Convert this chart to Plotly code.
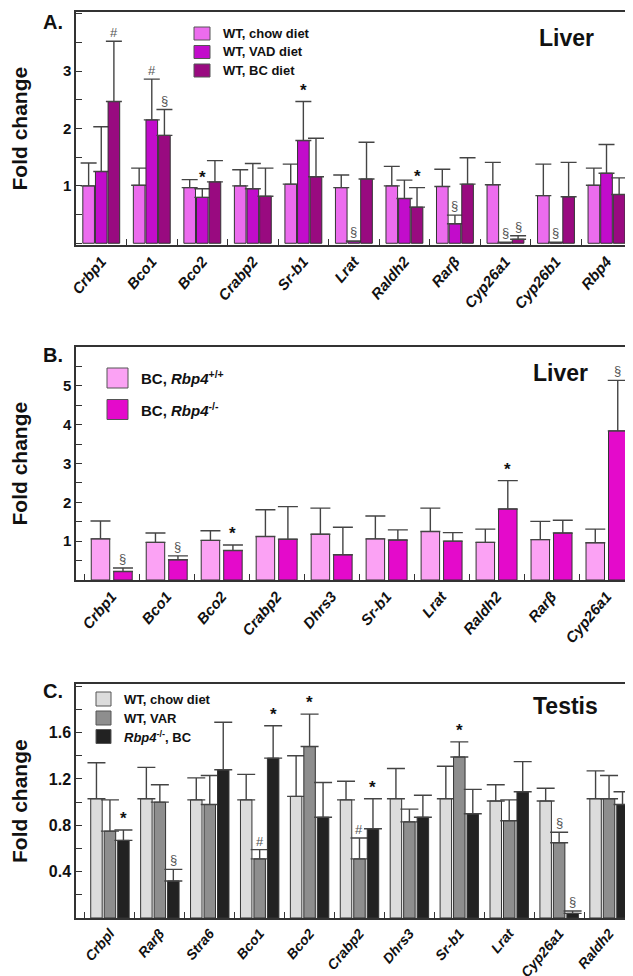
import plotly.graph_objects as go
from plotly.subplots import make_subplots

# ---- Panel A: liver, WT mice on three diets ----
genes_a = ["Crbp1", "Bco1", "Bco2", "Crabp2", "Sr-b1", "Lrat", "Raldh2", "Rarβ", "Cyp26a1", "Cyp26b1", "Rbp4"]
chow_a = [1.00, 1.01, 0.97, 1.00, 1.03, 0.97, 1.00, 0.99, 1.02, 0.83, 1.01]
chow_a_sd = [0.40, 0.30, 0.14, 0.28, 0.35, 0.22, 0.34, 0.30, 0.39, 0.55, 0.30]
vad_a = [1.25, 2.15, 0.80, 0.95, 1.79, 0.03, 0.78, 0.34, 0.01, 0.01, 1.22]
vad_a_sd = [0.78, 0.71, 0.15, 0.44, 0.68, 0.01, 0.32, 0.15, 0.01, 0.01, 0.50]
bc_a = [2.47, 1.88, 1.07, 0.82, 1.16, 1.12, 0.63, 1.03, 0.07, 0.81, 0.85]
bc_a_sd = [1.05, 0.45, 0.37, 0.49, 0.67, 0.64, 0.34, 0.46, 0.06, 0.60, 0.29]
# (gene, series index, symbol)
sig_a = [("Crbp1", 2, "#"), ("Bco1", 1, "#"), ("Bco1", 2, "§"), ("Bco2", 1, "*"),
         ("Sr-b1", 1, "*"), ("Lrat", 1, "§"), ("Raldh2", 2, "*"), ("Rarβ", 1, "§"),
         ("Cyp26a1", 1, "§"), ("Cyp26a1", 2, "§"), ("Cyp26b1", 1, "§")]

# ---- Panel B: liver, BC diet, Rbp4 +/+ vs -/- ----
genes_b = ["Crbp1", "Bco1", "Bco2", "Crabp2", "Dhrs3", "Sr-b1", "Lrat", "Raldh2", "Rarβ", "Cyp26a1"]
wt_b = [1.06, 0.97, 1.02, 1.12, 1.18, 1.06, 1.25, 0.97, 1.04, 0.96]
wt_b_sd = [0.46, 0.24, 0.25, 0.69, 0.67, 0.59, 0.60, 0.34, 0.47, 0.35]
ko_b = [0.22, 0.52, 0.76, 1.05, 0.65, 1.03, 1.00, 1.83, 1.21, 3.84]
ko_b_sd = [0.09, 0.10, 0.14, 0.84, 0.71, 0.26, 0.22, 0.73, 0.33, 1.30]
sig_b = [("Crbp1", 1, "§"), ("Bco1", 1, "§"), ("Bco2", 1, "*"), ("Raldh2", 1, "*"), ("Cyp26a1", 1, "§")]

# ---- Panel C: testis ----
genes_c = ["Crbpl", "Rarβ", "Stra6", "Bco1", "Bco2", "Crabp2", "Dhrs3", "Sr-b1", "Lrat", "Cyp26a1", "Raldh2"]
chow_c = [1.03, 1.03, 1.02, 1.02, 1.05, 1.02, 1.03, 1.03, 1.01, 1.01, 1.03]
chow_c_sd = [0.31, 0.27, 0.19, 0.22, 0.35, 0.16, 0.26, 0.28, 0.14, 0.11, 0.24]
var_c = [0.75, 1.00, 0.98, 0.51, 1.48, 0.51, 0.83, 1.39, 0.84, 0.65, 1.03]
var_c_sd = [0.27, 0.15, 0.25, 0.08, 0.28, 0.18, 0.11, 0.13, 0.18, 0.09, 0.20]
bc_c = [0.67, 0.32, 1.28, 1.38, 0.87, 0.77, 0.87, 0.90, 1.09, 0.04, 0.98]
bc_c_sd = [0.09, 0.10, 0.41, 0.28, 0.30, 0.26, 0.19, 0.21, 0.26, 0.02, 0.11]
sig_c = [("Crbpl", 2, "*"), ("Rarβ", 2, "§"), ("Bco1", 1, "#"), ("Bco1", 2, "*"),
         ("Bco2", 1, "*"), ("Crabp2", 1, "#"), ("Crabp2", 2, "*"), ("Sr-b1", 1, "*"),
         ("Cyp26a1", 1, "§"), ("Cyp26a1", 2, "§")]

FONT = "Liberation Sans, Arial, sans-serif"
W, H, L, R = 633, 976, 68, 7


def paper(x, y):
    # pixel position -> paper coords
    return (x - L) / (W - L - R), 1 - y / H


panels = [
    dict(genes=genes_a,
         series=[("WT, chow diet", chow_a, chow_a_sd, "#EC6CEE"),
                 ("WT, VAD diet", vad_a, vad_a_sd, "#C20CCB"),
                 ("WT, BC diet", bc_a, bc_a_sd, "#990A80")],
         sig=sig_a, width=0.23, slot=0.25, cap=8, xtick=15,
         ydom=[1 - 237 / H, 1 - 4 / H], xdom=[0, 0.996], yrange=[-0.03, 4.03],
         xrange=[-0.5, 10.5], tickvals=[1, 2, 3], minor=0.5, ytick=15),
    dict(genes=genes_b,
         series=[("BC, Rbp4+/+", wt_b, wt_b_sd, "#FBA2F4"),
                 ("BC, Rbp4-/-", ko_b, ko_b_sd, "#E40ACB")],
         sig=sig_b, width=0.336, slot=0.409, cap=10, xtick=15,
         ydom=[1 - 572 / H, 1 - 339 / H], xdom=[0, 1], yrange=[0, 6],
         xrange=[-0.65, 9.5], tickvals=[1, 2, 3, 4, 5], minor=0.5, ytick=15),
    dict(genes=genes_c,
         series=[("WT, chow diet", chow_c, chow_c_sd, "#DCDCDC"),
                 ("WT, VAR", var_c, var_c_sd, "#8E8E8E"),
                 ("Rbp4-/-, BC", bc_c, bc_c_sd, "#222222")],
         sig=sig_c, width=0.23, slot=0.27, cap=9, xtick=14,
         ydom=[1 - 910 / H, 1 - 676 / H], xdom=[0, 1], yrange=[0, 2.02],
         xrange=[-0.68, 10.5], tickvals=[0.4, 0.8, 1.2, 1.6], minor=0.2, ytick=16),
]

fig = make_subplots(rows=3, cols=1)
annotations = []

for r, p in enumerate(panels, start=1):
    n = len(p["series"])
    start = -(p["slot"] * n - (p["slot"] - p["width"])) / 2
    offsets = [start + k * p["slot"] for k in range(n)]
    for k, (name, vals, sd, color) in enumerate(p["series"]):
        fig.add_trace(go.Bar(
            x=p["genes"], y=vals, name=name, width=p["width"], offset=offsets[k],
            marker=dict(color=color, line=dict(color="#333", width=1)),
            error_y=dict(type="data", symmetric=False, array=sd, arrayminus=[0] * len(sd),
                         color="#444", thickness=1.4, width=p["cap"]),
        ), row=r, col=1)
    xref = "x" if r == 1 else f"x{r}"
    yref = "y" if r == 1 else f"y{r}"
    for gene, k, sym in p["sig"]:
        i = p["genes"].index(gene)
        _, vals, sd, _ = p["series"][k]
        star = sym == "*"
        annotations.append(dict(
            x=i + offsets[k] + p["width"] / 2, y=vals[i] + sd[i], xref=xref, yref=yref,
            text=sym, showarrow=False, yanchor="bottom", xanchor="center",
            yshift=-1 if sym == "#" else 0,
            font=dict(family=FONT, size=17 if star else 13,
                      color="#111" if star else "#555",
                      weight="bold" if star else "normal")))

    fig.update_xaxes(row=r, col=1, type="category", domain=p["xdom"], range=p["xrange"],
                     tickson="boundaries", ticks="inside", ticklen=6, tickcolor="#333",
                     showline=True, linecolor="#333", linewidth=1.5, mirror=True,
                     showgrid=False, tickangle=-50,
                     tickfont=dict(family=FONT, size=p["xtick"], color="#111", weight="bold", style="italic"))
    fig.update_yaxes(row=r, col=1, domain=p["ydom"], range=p["yrange"],
                     tickvals=p["tickvals"], ticks="inside", ticklen=6, tickcolor="#333",
                     minor=dict(ticks="inside", dtick=p["minor"], tick0=0, ticklen=6, tickcolor="#333"),
                     showline=True, linecolor="#333", linewidth=1.5, mirror=True,
                     showgrid=False, zeroline=False,
                     tickfont=dict(family=FONT, size=p["ytick"], color="#111", weight="bold"))

shapes = []


def legend_item(x0, x1, yc, h, color, label, size):
    a0, b0 = paper(x0, yc - h / 2)
    a1, b1 = paper(x1, yc + h / 2)
    shapes.append(dict(type="rect", xref="paper", yref="paper", x0=a0, x1=a1, y0=b0, y1=b1,
                       fillcolor=color, line=dict(color="#555", width=1)))
    tx, ty = paper(x1 + 11, yc)
    annotations.append(dict(x=tx, y=ty, xref="paper", yref="paper", text=label, showarrow=False,
                            xanchor="left", yanchor="middle",
                            font=dict(family=FONT, size=size, color="#111", weight="bold")))


labels_a = ["WT, chow diet", "WT, VAD diet", "WT, BC diet"]
for k, yc in enumerate([25.5, 44, 62.5]):
    legend_item(186, 202, yc, 13, panels[0]["series"][k][3], labels_a[k], 13)
labels_b = ["BC, <i>Rbp4</i><sup>+/+</sup>", "BC, <i>Rbp4</i><sup>-/-</sup>"]
for k, yc in enumerate([370, 401.5]):
    legend_item(99, 120, yc, 20, panels[1]["series"][k][3], labels_b[k], 15)
labels_c = ["WT, chow diet", "WT, VAR", "<i>Rbp4</i><sup>-/-</sup>, BC"]
for k, yc in enumerate([691, 710, 728.5]):
    legend_item(88, 103, yc, 14, panels[2]["series"][k][3], labels_c[k], 13)


def text_at(x, y, text, size, anchor="center", angle=0):
    a, b = paper(x, y)
    annotations.append(dict(x=a, y=b, xref="paper", yref="paper", text=text, showarrow=False,
                            xanchor=anchor, yanchor="middle", textangle=angle,
                            font=dict(family=FONT, size=size, color="#111", weight="bold")))


text_at(45, 14, "A.", 20)
text_at(45, 347, "B.", 20)
text_at(45, 683, "C.", 20)
text_at(558, 30, "Liver", 23)
text_at(552, 365, "Liver", 23)
text_at(557, 698, "Testis", 23)
for yc in [120.5, 455.5, 793]:
    text_at(11, yc, "Fold change", 21, angle=-90)

fig.update_layout(
    width=W, height=H, margin=dict(l=L, r=R, t=0, b=0),
    plot_bgcolor="white", paper_bgcolor="white",
    barmode="overlay", showlegend=False,
    font=dict(family=FONT, color="#111"),
    annotations=annotations, shapes=shapes,
)

fig.write_html("out.html")
